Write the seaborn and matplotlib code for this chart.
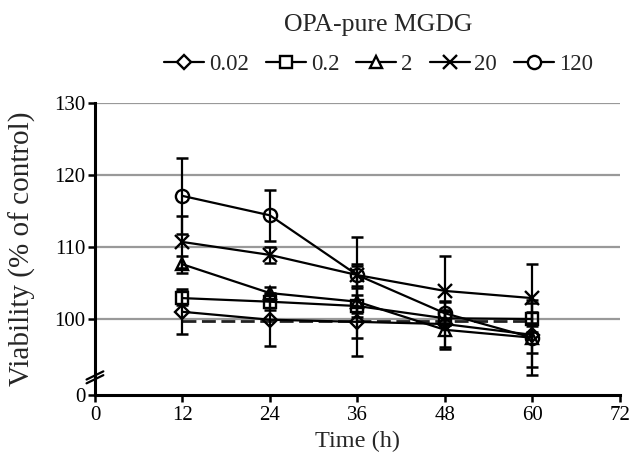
import matplotlib
matplotlib.use("Agg")
import matplotlib.pyplot as plt
import seaborn as sns
import numpy as np
import pandas as pd

# ---- data ----
times = [12, 24, 36, 48, 60]
series_names = ["0.02", "0.2", "2", "20", "120"]
v_002 = [101.0, 99.9, 99.6, 99.3, 97.8]
v_02 = [102.9, 102.4, 101.8, 100.1, 100.0]
v_2 = [107.6, 103.6, 102.4, 98.5, 97.4]
v_20 = [110.7, 108.9, 106.1, 103.9, 102.9]
v_120 = [117.1, 114.4, 106.1, 100.8, 97.4]
e_002 = [3.1, 3.6, 4.7, 3.2, 4.4]
e_02 = [1.0, 1.2, 1.5, 1.0, 1.0]
e_2 = [1.2, 0.9, 5.0, 2.7, 2.1]
e_20 = [3.6, 1.1, 1.5, 4.8, 4.7]
e_120 = [5.3, 3.5, 5.3, 1.5, 5.2]
control = [99.7, 99.7, 99.7, 99.7, 99.7]
y_ticks = [100, 110, 120, 130]
y_tick_labels = ["0", "100", "110", "120", "130"]
x_ticks = [0, 12, 24, 36, 48, 60, 72]
legend_title = "OPA-pure MGDG"

values = [v_002, v_02, v_2, v_20, v_120]
errors = [e_002, e_02, e_2, e_20, e_120]
markers = ["D", "s", "^", "x", "o"]
msizes = [7, 8, 8.5, 10, 9.5]

sns.set_style("white")
plt.rcParams["font.family"] = ["Liberation Serif", "DejaVu Serif"]

fig = plt.figure(figsize=(6.33, 4.59), dpi=100)
ax = fig.add_axes([0.150, 0.1394, 0.829, 0.6362])

ymin = 89.44
ax.set_ylim(ymin, 130)
ax.set_xlim(0, 72)

for y in y_ticks:
    ax.axhline(y, color="#999999", lw=1.6, zorder=0)

# control dashed line
ax.plot(times, control, ls=(0, (5, 2)), color="#222222", lw=2.0, zorder=1)

for name, vals, errs in zip(series_names, values, errors):
    ax.errorbar(times, vals, yerr=errs, fmt="none", ecolor="black",
                elinewidth=1.6, capsize=4, capthick=1.8, zorder=2)

for name, vals, m, ms in zip(series_names, values, markers, msizes):
    d = pd.DataFrame({"Time": times, "Viability": vals})
    sns.lineplot(data=d, x="Time", y="Viability", color="black", lw=1.6,
                 marker=m, markersize=ms,
                 markerfacecolor=("none" if m != "x" else "black"),
                 markeredgecolor="black", markeredgewidth=1.7,
                 ax=ax, legend=False, zorder=3)

ax.set_yticks([ymin] + y_ticks)
ax.set_yticklabels(y_tick_labels)
ax.set_xticks(x_ticks)
ax.tick_params(axis="both", labelsize=15, direction="out", length=5, width=1.8,
               colors="black", left=True, bottom=True)
ax.tick_params(axis="y", pad=2)
ax.tick_params(axis="x", pad=3)
for s in ["top", "right"]:
    ax.spines[s].set_visible(False)
for s in ["left", "bottom"]:
    ax.spines[s].set_linewidth(2.2)
    ax.spines[s].set_color("black")

ax.set_xlabel("Time (h)", fontsize=17.5, labelpad=4)
ax.set_ylabel("Viability (% of control)", fontsize=21, labelpad=13)

# axis break marks
for dy in [0.0, 0.013]:
    ax.plot([-0.016, 0.016], [0.040 + dy, 0.068 + dy], transform=ax.transAxes,
            color="black", lw=1.6, clip_on=False, zorder=5)

# legend
handles = []
for m, ms in zip(markers, msizes):
    h, = ax.plot([], [], color="black", lw=1.6, marker=m, markersize=ms,
                 markerfacecolor="white" if m != "x" else "black",
                 markeredgecolor="black", markeredgewidth=1.7)
    handles.append(h)
leg = fig.legend(handles, series_names, title=legend_title, loc="upper center",
                 bbox_to_anchor=(0.598, 1.0), ncol=5, frameon=False,
                 fontsize=16.5, title_fontsize=18.5, handlelength=1.75,
                 handletextpad=0.2, columnspacing=0.75, labelspacing=0.8,
                 borderaxespad=0.2)

fig.savefig("out.png", dpi=100)
